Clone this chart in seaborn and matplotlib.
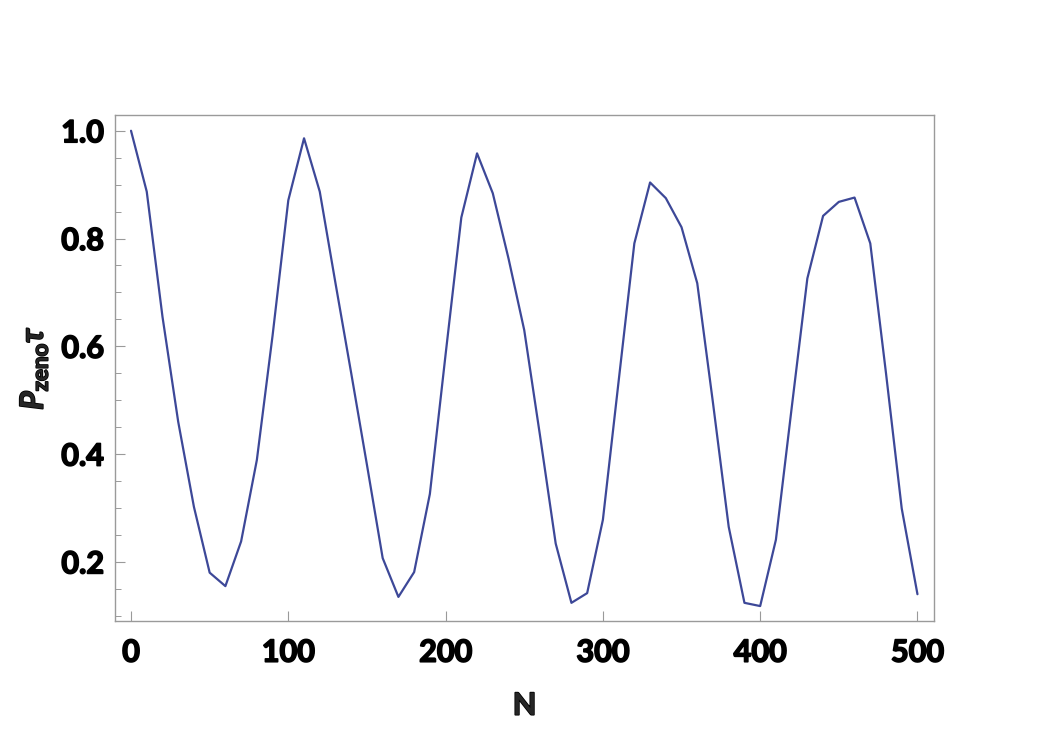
import seaborn as sns
import matplotlib.pyplot as plt
import matplotlib.patheffects as pe
import pandas as pd
from matplotlib.ticker import MultipleLocator

# data
n_values = [0, 10, 20, 30, 40, 50, 60, 70, 80, 90,
            100, 110, 120, 130, 140, 150, 160, 170, 180, 190,
            200, 210, 220, 230, 240, 250, 260, 270, 280, 290,
            300, 310, 320, 330, 340, 350, 360, 370, 380, 390,
            400, 410, 420, 430, 440, 450, 460, 470, 480, 490, 500]
p_zeno = [1.000, 0.887, 0.655, 0.460, 0.302, 0.180, 0.155, 0.238, 0.389, 0.620,
          0.871, 0.986, 0.887, 0.717, 0.550, 0.380, 0.207, 0.135, 0.181, 0.326,
          0.585, 0.839, 0.958, 0.884, 0.763, 0.630, 0.435, 0.234, 0.124, 0.142,
          0.278, 0.535, 0.791, 0.904, 0.875, 0.821, 0.717, 0.495, 0.265, 0.124,
          0.118, 0.241, 0.485, 0.726, 0.842, 0.868, 0.876, 0.791, 0.550, 0.299, 0.140]
x_ticks = [0, 100, 200, 300, 400, 500]
y_ticks = [0.2, 0.4, 0.6, 0.8, 1.0]

df = pd.DataFrame({"N": n_values, "P": p_zeno})

sns.set_theme(style="ticks")
plt.rcParams['font.family'] = ['Lato', 'DejaVu Sans']
plt.rcParams['mathtext.fontset'] = 'custom'
plt.rcParams['mathtext.it'] = 'Lato:italic:bold'
plt.rcParams['mathtext.rm'] = 'Lato:bold'
plt.rcParams['mathtext.bf'] = 'Lato:bold'

fig = plt.figure(figsize=(10.5, 7.36), dpi=100)
ax = fig.add_axes([0.1095, 0.1567, 0.7803, 0.6866])

sns.lineplot(data=df, x="N", y="P", ax=ax, color="#3d4898", linewidth=1.6)

ax.set_xlim(-10.2, 510.7)
ax.set_ylim(0.0909, 1.0286)
ax.set_xticks(x_ticks)
ax.set_xticklabels([str(t) for t in x_ticks])
ax.set_yticks(y_ticks)
ax.set_yticklabels([f"{t:.1f}" for t in y_ticks])
ax.yaxis.set_minor_locator(MultipleLocator(0.05))

for side in ax.spines.values():
    side.set_color("#9a9a9a")
    side.set_linewidth(1.0)

ax.tick_params(axis="both", which="major", direction="in", length=7, width=0.8,
               color="#9a9a9a", labelsize=22, labelcolor="black")
ax.tick_params(axis="y", which="minor", direction="in", length=4, width=0.7,
               color="#9a9a9a")
ax.tick_params(axis="x", which="major", pad=13)
ax.tick_params(axis="y", which="major", pad=8)

# heavier lettering, like the reference
heavy = [pe.withStroke(linewidth=1.2, foreground="black")]
for lab in ax.get_xticklabels() + ax.get_yticklabels():
    lab.set_fontweight("bold")
    lab.set_path_effects(heavy)

ax.set_xlabel("N", fontsize=22, fontweight="bold", labelpad=18)
ax.set_ylabel(r"$P_{\mathrm{zeno}}\tau$", fontsize=23, labelpad=8)
ax.xaxis.label.set_path_effects(heavy)
ax.yaxis.label.set_path_effects(heavy)

fig.savefig("out.png", dpi=100)
